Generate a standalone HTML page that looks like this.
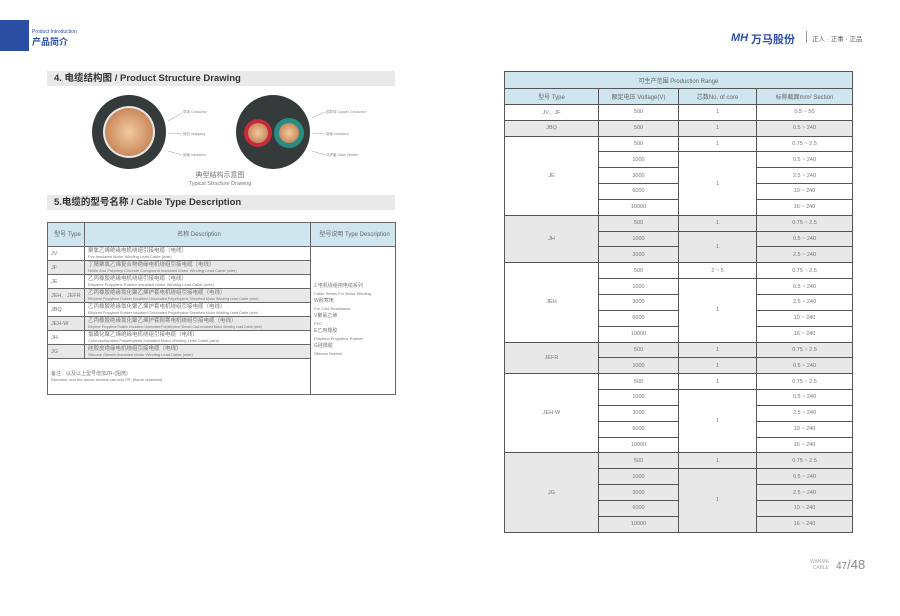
<!DOCTYPE html>
<html><head><meta charset="utf-8"><style>
*{margin:0;padding:0;box-sizing:border-box}
body{width:900px;height:616px;background:#fff;position:relative;overflow:hidden;font-family:"Liberation Sans","Noto Sans CJK SC",sans-serif;color:#666}
.abs{position:absolute}
.bar{position:absolute;left:47px;width:348px;height:15px;background:#e9e9e9;font-size:9.5px;font-weight:bold;color:#333;padding-left:7px;line-height:15px}
table{border-collapse:collapse;position:absolute;font-size:5.5px;color:#777;table-layout:fixed}
td{border:1px solid #555;text-align:center;height:15.85px;padding:0}
.g td,td.g{background:#e8e8e8}
.h td{background:#cfe6ef;font-size:6px;color:#666}
#lt td{border-color:#666;text-align:left;padding-left:3px;height:14px;white-space:nowrap;overflow:hidden;line-height:6px}
#lt td span{font-size:4px}
#lt .h td{text-align:center;height:24px}
</style></head><body>
<div class="abs" style="left:0;top:20px;width:29px;height:31px;background:#2b4ea2"></div>
<div class="abs" style="left:32px;top:29px;font-size:5px;color:#2b4ea2">Product Introduction</div>
<div class="abs" style="left:32px;top:35px;font-size:9px;color:#2b4ea2;font-weight:bold">产品简介</div>
<div class="abs" style="left:731px;top:32px;font-size:11px;color:#2b4ea2;font-weight:bold;font-style:italic">MH</div>
<div class="abs" style="left:751px;top:31px;font-size:11px;color:#2b4ea2;font-weight:bold">万马股份</div>
<div class="abs" style="left:806px;top:31px;width:1px;height:12px;background:#999"></div>
<div class="abs" style="left:812px;top:33px;font-size:6.5px;color:#666">正人 · 正事 · 正品</div>

<div class="bar" style="top:71px">4. 电缆结构图 / Product Structure Drawing</div>
<svg class="abs" style="left:80px;top:91px" width="320" height="95">
<defs><radialGradient id="cu"><stop offset="0" stop-color="#f3c9a0"/><stop offset="1" stop-color="#c98a5c"/></radialGradient></defs>
<circle cx="49" cy="41" r="37" fill="#353b3b"/><circle cx="49" cy="41" r="26" fill="#e8e8e8"/><circle cx="49" cy="41" r="24" fill="url(#cu)"/>
<circle cx="193" cy="41" r="37" fill="#353b3b"/>
<circle cx="178" cy="42" r="14" fill="#c52a3d"/><circle cx="178" cy="42" r="10" fill="url(#cu)"/>
<circle cx="209" cy="42" r="15" fill="#2c8a85"/><circle cx="209" cy="42" r="10" fill="url(#cu)"/>
<g stroke="#999" stroke-width=".5" fill="none"><path d="M88 30 L102 22"/><path d="M88 42 L102 43"/><path d="M88 60 L102 64"/><path d="M232 27 L245 21"/><path d="M232 42 L245 43"/><path d="M232 60 L245 64"/></g>
<g font-size="3.5" fill="#888"><text x="103" y="22">导体 Conductor</text><text x="103" y="44">绕包 wrapping</text><text x="103" y="65">绝缘 insulation</text><text x="246" y="22">铜导体 Copper Conductor</text><text x="246" y="44">绝缘 insulation</text><text x="246" y="65">外护套 Outer Sheath</text></g>
</svg>
<div class="abs" style="left:185px;top:172px;width:70px;text-align:center;font-size:7px;color:#777;line-height:8px">典型结构示意图<br><span style="font-size:5.5px">Typical Strucfure Drawing</span></div>

<div class="bar" style="top:195px">5.电缆的型号名称 / Cable Type Description</div>
<table id="lt" style="left:47px;top:222px;width:348px">
<col style="width:37px"><col style="width:226px"><col style="width:85px">
<tr class="h"><td>型号 Type</td><td>名称 Description</td><td>型号说明 Type Description</td></tr>
<tr><td>JV</td><td>聚氯乙烯绝缘电机绕组引接电缆（电线）<br><span>Pvc Insulated Motor Winding Lead Cable (wire)</span></td><td rowspan="9" style="background:#fff;font-size:5px;line-height:7px;white-space:normal;vertical-align:middle">J 电机绕组用电缆系列<br><span>Cable Series For Motor Winding</span><br>W耐寒用<br><span>For Cold Resistance</span><br>V聚氯乙烯<br><span>PVC</span><br>E乙丙橡胶<br><span>Ethylene Propylene Rubber</span><br>G硅橡胶<br><span>Silicone Rubber</span></td></tr>
<tr class="g"><td>JF</td><td>丁腈聚氯乙烯复合物绝缘电机绕组引接电缆（电线）<br><span>Nitrile And Polyvinyl Chloride Compound Insulated Motor Winding Lead Cable (wire)</span></td></tr>
<tr><td>JE</td><td>乙丙橡胶绝缘电机绕组引接电缆（电线）<br><span>Ethylene Propylene Rubber Insulated Motor Winding Lead Cable (wire)</span></td></tr>
<tr class="g"><td>JEH、JEFR</td><td>乙丙橡胶绝缘氯化聚乙烯护套电机绕组引接电缆（电线）<br><span style="font-size:3.6px">Ethylene Propylene Rubber Insulated Chlorinated Polyethylene Sheathed Motor Winding Lead Cable (wire)</span></td></tr>
<tr><td>JBQ</td><td>乙丙橡胶绝缘氯化聚乙烯护套电机绕组引接电缆（电线）<br><span style="font-size:3.6px">Ethylene Propylene Rubber Insulated Chlorinated Polyethylene Sheathed Motor Winding Lead Cable (wire)</span></td></tr>
<tr class="g"><td>JEH-W</td><td>乙丙橡胶绝缘氯化聚乙烯护套耐寒电机绕组引接电缆（电线）<br><span style="font-size:3.3px">Ethylene Propylene Rubber Insulated Chlorinated Polyethylene Sheath Cold-resistant Motor Winding Lead Cable (wire)</span></td></tr>
<tr><td>JH</td><td>氯磺化聚乙烯绝缘电机绕组引接电缆（电线）<br><span>Chlorosulfonated Polyethylene Insulated Motor Winding Lead Cable (wire)</span></td></tr>
<tr class="g"><td>JG</td><td>硅胶皮绝缘电机绕组引接电缆（电线）<br><span>Silicone Sheath Insulated Motor Winding Lead Cable (wire)</span></td></tr>
<tr><td colspan="2" style="height:36px;font-size:5px">备注：以及以上型号增加ZR-(阻燃)<br><span>Remarks: and the above models can add ZR- (flame retardant)</span></td></tr>
</table>

<table style="left:504px;top:71px;width:349px">
<col style="width:94px"><col style="width:80px"><col style="width:78px"><col>
<tr class="h"><td colspan="4" style="height:17px">可生产范围 Production Range</td></tr>
<tr class="h"><td>型号 Type</td><td>额定电压 Voltage(V)</td><td>芯数No. of core</td><td>标称截面mm² Section</td></tr>
<tr><td>JV、JF</td><td>500</td><td>1</td><td>0.5 ~ 50</td></tr>
<tr class="g"><td>JBQ</td><td>500</td><td>1</td><td>0.5 ~ 240</td></tr>
<tr><td rowspan="5">JE</td><td>500</td><td>1</td><td>0.75 ~ 2.5</td></tr>
<tr><td>1000</td><td rowspan="4">1</td><td>0.5 ~ 240</td></tr>
<tr><td>3000</td><td>2.5 ~ 240</td></tr>
<tr><td>6000</td><td>10 ~ 240</td></tr>
<tr><td>10000</td><td>16 ~ 240</td></tr>
<tr class="g"><td rowspan="3">JH</td><td>500</td><td>1</td><td>0.75 ~ 2.5</td></tr>
<tr class="g"><td>1000</td><td rowspan="2">1</td><td>0.5 ~ 240</td></tr>
<tr class="g"><td>3000</td><td>2.5 ~ 240</td></tr>
<tr><td rowspan="5">JEH</td><td>500</td><td>2 ~ 5</td><td>0.75 ~ 2.5</td></tr>
<tr><td>1000</td><td rowspan="4">1</td><td>0.5 ~ 240</td></tr>
<tr><td>3000</td><td>2.5 ~ 240</td></tr>
<tr><td>6000</td><td>10 ~ 240</td></tr>
<tr><td>10000</td><td>16 ~ 240</td></tr>
<tr class="g"><td rowspan="2">JEFR</td><td>500</td><td>1</td><td>0.75 ~ 2.5</td></tr>
<tr class="g"><td>1000</td><td>1</td><td>0.5 ~ 240</td></tr>
<tr><td rowspan="5">JEH-W</td><td>500</td><td>1</td><td>0.75 ~ 2.5</td></tr>
<tr><td>1000</td><td rowspan="4">1</td><td>0.5 ~ 240</td></tr>
<tr><td>3000</td><td>2.5 ~ 240</td></tr>
<tr><td>6000</td><td>10 ~ 240</td></tr>
<tr><td>10000</td><td>16 ~ 240</td></tr>
<tr class="g"><td rowspan="5">JG</td><td>500</td><td>1</td><td>0.75 ~ 2.5</td></tr>
<tr class="g"><td>1000</td><td rowspan="4">1</td><td>0.5 ~ 240</td></tr>
<tr class="g"><td>3000</td><td>2.5 ~ 240</td></tr>
<tr class="g"><td>6000</td><td>10 ~ 240</td></tr>
<tr class="g"><td>10000</td><td>16 ~ 240</td></tr>
</table>

<div class="abs" style="left:810px;top:559px;font-size:5px;color:#aaa;line-height:6px;text-align:right">WANMA<br>CABLE</div>
<div class="abs" style="left:836px;top:557px;font-size:13px;color:#888"><span style="font-size:10px">47</span>/48</div>
</body></html>
